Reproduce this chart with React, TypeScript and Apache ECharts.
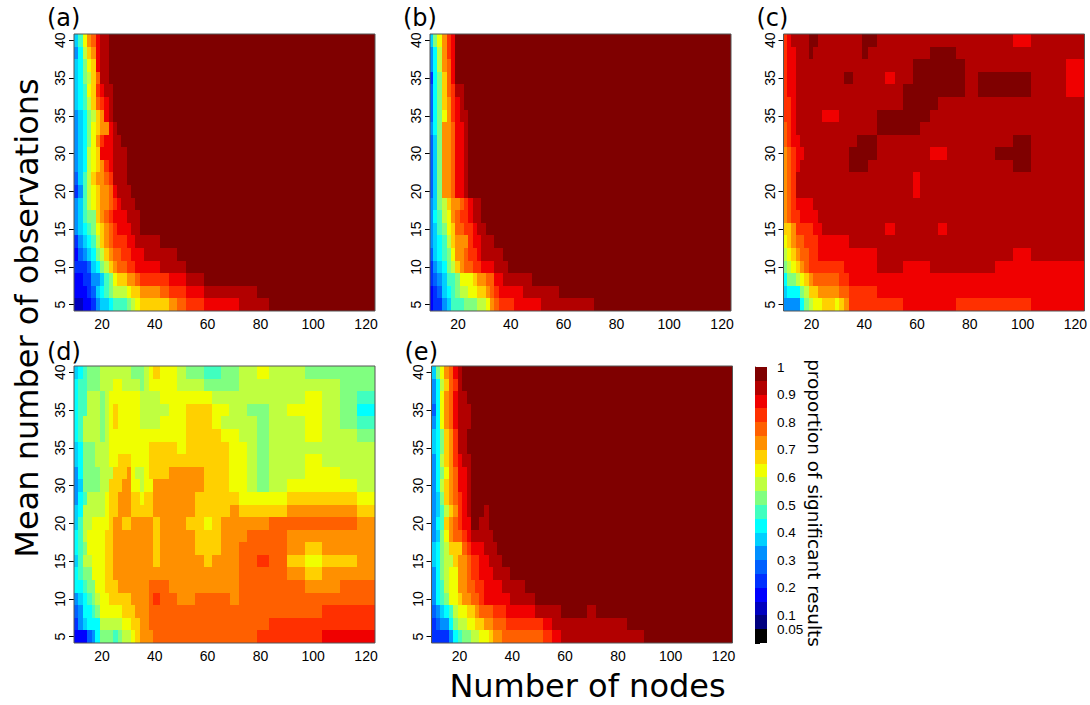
import React, { useEffect, useRef } from "react";
import * as echarts from "echarts";

// Colour bands of the scale, lowest to highest, each 0.05 wide.
const bandColors = ["#000000","#00007F","#0000BF","#0000FF","#0030FF","#0060FF","#0090FF","#00D0FF","#00FFFF","#40FFBF","#80FF80","#BFFF40","#F0FF00","#FFD000","#FF9000","#FF6000","#FF3000","#F00000","#B20000","#7F0000"];
const colorbarTicks = [0,0.05,0.1,0.15,0.2,0.25,0.3,0.35,0.4,0.45,0.5,0.55,0.6,0.65,0.7,0.75,0.8,0.85,0.9,0.95,1];
const colorbarLabels = [0.05,0.1,0.2,0.3,0.4,0.5,0.6,0.7,0.8,0.9,1];
const xTicks = [20,40,60,80,100,120];
const yTickRows = [0,3,6,9,12,15,18,21];
const yTickLabels = ["5","10","15","20","30","35","35","40"];
const panelLetters = ["(a)","(b)","(c)","(d)","(e)"];

// Each row (bottom to top): band, end of its run on the x axis, band, end, ..., last band (runs to the right edge).
const panelA = [
[2,12.7,3,16,4,17.6,6,19.1,7,22.5,8,24.2,9,29.4,10,30.9,11,32.4,12,34.3,13,45.3,14,48.3,15,51.7,16,58.6,17,71.8,18,83.2,19],
[3,14.2,4,16,5,17.6,7,19.1,8,20.8,9,22.5,10,24.2,11,29.4,12,30.9,13,34.3,14,41.9,15,45.3,16,51.7,17,58.6,18,78.7,19],
[3,12.7,4,16,6,19.1,7,20.8,9,22.5,10,24.2,12,25.8,13,29.4,14,32.4,15,34.3,16,45.3,17,51.7,18,58.6,19],
[4,14.2,5,16,7,17.6,8,19.1,10,20.8,11,22.5,13,24.2,14,25.8,15,29.4,16,32.4,17,41.9,18,51.7,19],
[3,10.9,5,12.7,6,14.2,7,16,8,17.6,10,19.1,11,20.8,13,22.5,14,24.2,15,27.3,16,30.9,17,35.8,18,48.3,19],
[4,10.9,6,12.7,7,14.2,8,16,9,17.6,11,19.1,13,20.8,14,22.5,15,24.2,16,29.4,17,32.4,18,41.9,19],
[6,10.9,7,12.7,8,14.2,9,16,10,17.6,12,19.1,13,20.8,14,22.5,15,24.2,16,25.8,17,30.9,18,34.3,19],
[6,10.9,7,12.7,9,14.2,10,17.6,13,19.1,14,20.8,15,22.5,16,24.2,17,29.4,18,34.3,19],
[6,10.9,7,12.7,9,14.2,11,16,12,17.6,13,19.1,14,22.5,15,24.2,16,25.8,17,27.3,18,32.4,19],
[4,10.9,6,12.7,9,14.2,11,16,12,17.6,13,19.1,14,22.5,15,24.2,17,25.8,18,30.9,19],
[5,10.9,7,12.7,9,14.2,11,16,13,17.6,14,20.8,15,22.5,16,24.2,18,29.4,19],
[6,10.9,7,12.7,8,14.2,11,16,12,17.6,13,19.1,14,20.8,16,22.5,17,24.2,18,29.4,19],
[6,10.9,7,12.7,8,14.2,11,16,12,17.6,13,19.1,17,24.2,18,29.4,19],
[6,10.9,7,12.7,8,14.2,10,16,12,17.6,14,19.1,16,20.8,17,24.2,18,27.3,19],
[6,10.9,7,12.7,8,14.2,10,16,12,17.6,13,19.1,14,22.5,17,24.2,18,25.8,19],
[6,10.9,7,12.7,8,14.2,10,16,11,17.6,13,19.1,14,20.8,17,22.5,18,24.2,19],
[7,10.9,8,12.7,9,14.2,11,16,13,17.6,15,19.1,16,20.8,17,22.5,18,24.2,19],
[7,10.9,8,12.7,9,14.2,12,16,13,17.6,16,19.1,17,20.8,18,24.2,19],
[7,10.9,8,12.7,10,14.2,11,16,13,17.6,15,19.1,18,22.5,19],
[7,10.9,8,12.7,10,14.2,12,16,13,17.6,17,19.1,18,22.5,19],
[6,10.9,8,12.7,11,14.2,13,16,14,17.6,17,19.1,18,22.5,19],
[7,10.9,9,12.7,12,14.2,14,16,15,17.6,17,19.1,18,22.5,19],
];

const panelB = [
[3,10.6,4,14,6,15.7,7,17.3,9,22.4,10,27.2,11,30.7,12,32.3,14,33.8,15,35.7,16,41.4,17,51.3,18,71.4,19],
[3,10.6,4,12.2,5,14,7,15.7,8,17.3,9,19,10,20.6,11,23.9,12,27.2,13,30.7,14,32.3,15,33.8,16,35.7,17,44.8,18,58.1,19],
[4,10.6,5,12.2,6,14,7,15.7,9,19,10,20.6,12,25.6,13,27.2,14,30.7,15,33.8,17,37.2,18,48.2,19],
[4,10.6,6,12.2,7,14,8,15.7,10,17.3,11,19,13,20.6,14,22.4,15,25.6,16,28.8,17,33.8,18,39.1,19],
[5,10.6,7,12.2,8,14,9,15.7,10,17.3,12,19,14,22.4,15,23.9,16,27.2,17,28.8,18,37.2,19],
[6,10.6,7,12.2,8,14,9,15.7,11,17.3,13,19,14,23.9,16,25.6,17,28.8,18,33.8,19],
[6,10.6,7,12.2,9,14,10,15.7,12,17.3,13,19,15,22.4,16,25.6,17,27.2,18,30.7,19],
[6,10.6,8,12.2,9,14,11,15.7,12,17.3,14,19,15,20.6,16,23.9,17,25.6,18,28.8,19],
[6,10.6,7,12.2,10,14,11,15.7,13,17.3,14,20.6,15,22.4,16,23.9,17,25.6,18,28.8,19],
[5,10.6,7,12.2,10,14,14,17.3,15,19,17,22.4,18,23.9,19],
[5,10.6,7,12.2,10,14,14,17.3,15,19,17,22.4,18,23.9,19],
[5,10.6,7,12.2,10,14,14,17.3,15,19,17,22.4,18,23.9,19],
[5,10.6,7,12.2,10,14,14,17.3,15,19,17,22.4,18,23.9,19],
[5,10.6,7,12.2,10,14,14,17.3,15,19,17,22.4,18,23.9,19],
[6,10.6,8,12.2,10,14,14,17.3,15,19,17,22.4,18,23.9,19],
[5,10.6,8,12.2,10,14,12,15.7,14,17.3,16,19,17,20.6,18,23.9,19],
[5,10.6,8,12.2,10,14,13,15.7,14,17.3,16,19,17,20.6,18,22.4,19],
[5,10.6,8,12.2,10,14,13,15.7,15,17.3,16,19,18,22.4,19],
[4,10.6,8,12.2,10,14,13,15.7,15,17.3,17,19,19],
[6,10.6,8,12.2,11,14,14,15.7,15,17.3,17,19,19],
[6,10.6,8,12.2,11,14,14,15.7,16,17.3,17,19,19],
[7,10.6,10,12.2,12,14,14,15.7,16,17.3,17,19,19],
];

const panelC = [
[6,15.7,8,17.2,10,19.1,11,20.6,12,24,13,29,12,30.5,13,32.4,14,34.3,16,54.8,17,74.9,16,103.3,17],
[7,10.6,8,15.7,10,17.2,11,19.1,13,22.5,14,30.5,15,34.3,16,44.9,17],
[8,10.6,10,14.2,11,15.7,12,17.2,13,19.1,14,20.6,15,30.5,16,34.3,17],
[10,10.6,11,12.4,12,14.2,13,15.7,14,17.2,15,19.1,16,32.4,17,44.9,18,54.8,17,65,18,89.7,17],
[11,10.6,12,12.4,13,14.2,14,15.7,15,19.1,16,22.5,17,44.9,18,96.5,17,103.3,18],
[12,10.9,13,12.4,14,14.2,15,17.2,16,22.5,17,34.3,18],
[13,12.4,14,14.2,16,20.6,17,24,18,47.9,17,51.7,18,68,17,71.5,18],
[14,10.6,15,12.4,16,15.7,17,22.5,18],
[14,10.6,15,12.4,16,14.2,17,20.6,18],
[14,10.6,15,12.4,16,14.2,18,58.3,17,61.2,18],
[14,10.6,15,12.4,16,14.2,18,58.3,17,61.2,18],
[14,10.6,15,12.4,16,14.2,17,15.7,18,34.3,19,41.5,18,96.5,19,103.3,18],
[14,10.6,15,12.4,16,14.2,17,17.2,18,34.3,19,44.9,18,65,17,71.5,18,89.7,19,103.3,18],
[15,10.6,16,12.4,17,15.7,18,37.3,19,44.9,18,96.5,19,103.3,18],
[15,10.6,16,12.4,17,14.2,18,44.9,19,61.2,18],
[16,12.4,17,14.2,18,24,17,30.5,18,44.9,19,65,18],
[16,12.4,17,14.2,18,54.8,19,68,18],
[16,10.6,17,14.2,18,54.8,19,78.3,18,83.2,19,103.3,18,116.6,17],
[16,10.6,17,14.2,18,32.4,19,35.8,18,47.9,17,51.7,18,58.3,19,78.3,18,83.2,19,103.3,18,116.6,17],
[16,10.6,17,14.2,18,58.3,19,78.3,18,116.6,17],
[16,10.6,17,14.2,18,19.1,19,20.6,18,39.2,19,41.5,18,65,19,74.9,18],
[16,10.6,17,12.4,18,19.1,19,22.5,18,39.2,19,44.9,18,96.5,17,103.3,18],
];

const panelD = [
[3,14.2,5,16.1,6,17.5,8,19.1,10,24,9,25.9,10,27.5,11,30.9,12,32.4,13,34.3,14,39.2,15,78.7,16,103.3,17],
[4,10.9,6,12.7,7,14.2,8,19.1,11,27.5,12,30.9,13,34.3,14,37.7,15,83.2,16],
[5,10.9,6,12.7,8,16.1,9,17.5,10,19.1,12,27.5,13,32.4,14,37.7,15,103.3,16],
[6,10.9,7,12.7,8,14.2,9,16.1,10,17.5,11,19.1,12,22.5,13,30.9,14,37.7,15,39.2,16,41.9,15,48.3,14,55.1,15,68.4,14,71.8,15],
[8,12.7,9,14.2,10,17.5,12,21,13,25.9,14,37.7,15,45.3,14,71.8,15,96.9,14,110.1,15],
[8,10.9,9,12.7,10,16.1,12,21,13,24,14,71.8,15,90,14,96.9,13,103.3,14],
[7,10.9,9,12.7,11,16.1,12,21,13,24,14,39.2,13,41.9,14,58.6,13,61.6,14,71.8,15,78.7,16,83.2,15,90,13,96.9,12,103.3,13,116.6,14],
[8,10.9,9,12.7,10,14.2,12,21,13,24,14,39.2,13,41.9,14,55.1,13,65,14,71.8,15,90,14,96.9,13,103.3,14],
[8,10.9,9,12.7,11,14.2,12,21,13,24,14,39.2,13,41.9,14,55.1,13,65,14,74.9,15,90,14],
[7,10.9,9,12.7,11,16.1,12,22.5,13,24,14,27.5,13,30.9,14,39.2,13,41.9,14,51.7,13,58.6,12,61.6,13,65,14,83.2,15,116.6,14],
[7,10.9,8,12.7,11,21,12,22.5,13,25.9,14,30.9,13,39.2,14,55.1,13,68.4,14,71.8,13,90,14,116.6,13],
[6,10.9,8,12.7,9,14.2,11,21,12,22.5,13,25.9,14,30.9,13,34.3,12,35.8,13,39.2,14,55.1,13,71.8,12,90,13,116.6,12],
[6,10.9,7,12.7,10,19.1,11,22.5,13,27.5,14,30.9,12,34.3,11,35.8,12,39.2,14,58.6,13,68,12,74.9,11,78.7,10,83.2,11,90,12,116.6,11],
[6,10.9,8,12.7,10,19.1,11,24,13,29.4,14,30.9,12,32.4,11,35.8,12,37.7,13,45.3,14,58.6,13,68,12,74.9,11,78.7,10,83.2,11,96.9,12,110.1,11],
[7,10.9,8,12.7,10,17.5,11,22.5,12,25.9,13,30.9,12,37.7,13,68,12,74.9,11,78.7,10,83.2,11,96.9,12,103.3,11],
[7,10.9,8,12.7,10,17.5,11,22.5,12,37.7,13,48.3,12,51.7,13,68,12,74.9,11,78.7,10,83.2,11],
[8,10.9,9,12.7,11,19.1,10,21,11,22.5,12,51.7,13,65,12,71.8,11,78.7,10,83.2,11,96.9,12,103.3,11,116.6,10],
[8,10.9,9,12.7,11,19.1,10,21,11,22.5,12,24,13,25.9,12,34.3,11,41.9,12,51.7,13,61.6,12,65,11,78.7,10,83.2,11,96.9,12,103.3,11,110.1,10,116.6,9],
[8,10.9,9,14.2,11,19.1,10,21,11,22.5,12,24,13,25.9,12,34.3,11,45.3,12,51.7,13,61.6,12,68,11,74.9,10,83.2,11,90,12,103.3,11,110.1,10,116.6,8],
[8,10.9,9,14.2,11,19.1,10,21,11,22.5,12,34.3,11,41.9,12,61.6,11,96.9,12,103.3,11,110.1,10,116.6,9],
[8,10.9,9,14.2,10,19.1,11,24,12,27.5,11,34.3,10,35.8,11,37.7,12,48.3,11,58.6,10,71.8,11,110.1,10],
[7,10.9,8,12.7,9,14.2,10,19.1,11,30.9,10,35.8,11,37.7,12,39.2,13,41.9,12,48.3,11,51.7,10,58.6,9,65,10,71.8,11,78.7,12,83.2,11,96.9,10],
];

const panelE = [
[4,16,6,17.6,8,19.4,9,20.9,10,24.3,11,27.5,12,31.2,13,32.7,14,36,15,51.6,16,55,17,58.5,18,90,19],
[4,11,5,12.6,6,16,8,17.6,10,19.4,11,22.7,12,26,13,29.2,14,32.7,15,37.6,16,51.6,17,55,18,83.5,19],
[5,11,6,12.6,7,14.2,8,16,9,17.6,11,19.4,12,22.7,13,26,14,27.5,15,32.7,16,37.6,17,48.6,18,58.5,19,68.3,18,71.7,19],
[6,11,8,12.6,9,14.2,10,16,12,19.4,13,20.9,14,24.3,15,27.5,16,29.2,17,39.1,18,48.6,19],
[6,11,8,12.6,9,14.2,11,16,12,19.4,14,22.7,15,26,16,29.2,17,36,18,44.8,19],
[6,11,8,12.6,10,14.2,11,16,12,19.4,14,22.7,15,24.3,16,27.5,17,32.7,18,39.1,19],
[7,11,8,12.6,10,14.2,11,17.6,13,19.4,14,22.7,15,24.3,16,27.5,17,31.2,18,36,19],
[7,11,8,12.6,10,14.2,11,16,13,20.9,15,22.7,16,24.3,17,29.2,18,34.3,19],
[6,11,7,12.6,10,14.2,12,16,14,17.6,15,20.9,16,22.7,17,24.3,18,32.7,19],
[6,11,8,12.6,9,14.2,13,16,14,17.6,15,19.4,16,20.9,17,24.3,19,27.5,18,31.2,19],
[6,11,7,12.6,9,14.2,11,16,13,17.6,14,19.4,16,20.9,17,22.7,18,24.3,19,29.2,18,31.2,19],
[6,11,7,12.6,10,14.2,13,16,14,17.6,15,19.4,16,20.9,17,22.7,18,24.3,19],
[6,11,8,12.6,11,14.2,13,16,14,17.6,15,19.4,17,22.7,18,24.3,19],
[6,11,8,12.6,10,14.2,12,16,14,17.6,15,19.4,17,22.7,18,24.3,19],
[6,11,8,12.6,11,14.2,13,16,14,17.6,16,19.4,17,20.9,18,24.3,19],
[7,11,8,12.6,10,14.2,13,16,14,17.6,16,19.4,18,22.7,19],
[7,11,8,12.6,10,14.2,13,16,14,17.6,16,19.4,18,22.7,19],
[6,11,8,12.6,12,14.2,14,16,15,17.6,17,19.4,18,24.3,19],
[5,11,8,12.6,12,14.2,14,16,15,17.6,17,19.4,18,24.3,19],
[6,11,8,12.6,12,14.2,14,16,15,17.6,17,19.4,18,22.7,19],
[6,11,8,12.6,11,14.2,13,16,15,17.6,16,19.4,18,20.9,19],
[7,11,10,12.6,12,14.2,14,16,15,17.6,17,19.4,18,20.9,19],
];

const panelRows = [panelA, panelB, panelC, panelD, panelE];

const X_MIN = 9.4;
const X_MAX = 123.4;
const PLOT_W = 301;
const PLOT_H = 277;
const plotLefts = [74, 430, 783.5, 74, 431.5];
const plotTops = [34, 34, 34, 366, 366];
const letterLifts = [28, 28, 28, 26, 26];

function cellsOf(rows: number[][]) {
  const cells: number[][] = [];
  rows.forEach((row, r) => {
    let start = X_MIN;
    for (let i = 0; i < row.length; i += 2) {
      const end = i + 1 < row.length ? row[i + 1] : X_MAX;
      cells.push([start, end, r, row[i]]);
      start = end;
    }
  });
  return cells;
}

function renderCell(_: any, api: any) {
  const a = api.coord([api.value(0), api.value(2) - 0.5]);
  const b = api.coord([api.value(1), api.value(2) + 0.5]);
  const x0 = Math.round(a[0]), x1 = Math.round(b[0]), y0 = Math.round(b[1]), y1 = Math.round(a[1]);
  return {
    type: "rect",
    shape: { x: x0, y: y0, width: x1 - x0, height: y1 - y0 },
    style: { fill: bandColors[api.value(3)] },
  };
}

function renderBand(_: any, api: any) {
  const a = api.coord([0, api.value(0)]);
  const b = api.coord([1, api.value(1)]);
  const y0 = Math.round(b[1]), y1 = Math.round(a[1]);
  return {
    type: "rect",
    shape: { x: a[0], y: y0, width: b[0] - a[0], height: y1 - y0 },
    style: { fill: bandColors[api.value(2)] },
  };
}

const tickFont = "'Liberation Sans', Arial, sans-serif";
const bigFont = "'DejaVu Sans', sans-serif";

export default function App() {
  const ref = useRef<HTMLDivElement>(null);
  useEffect(() => {
    document.body.style.margin = "0";
    const chart = echarts.init(ref.current!, undefined, { renderer: "svg" });
    const grids: any[] = [], xAxes: any[] = [], yAxes: any[] = [], series: any[] = [], graphics: any[] = [];
    panelRows.forEach((rows, i) => {
      grids.push({ left: plotLefts[i], top: plotTops[i], width: PLOT_W, height: PLOT_H });
      xAxes.push({
        type: "value", gridIndex: i, min: X_MIN, max: X_MAX, splitLine: { show: false },
        axisLine: { show: false }, axisTick: { show: false },
        axisLabel: { customValues: xTicks, color: "#000", fontSize: 14, fontFamily: tickFont, margin: 6 },
      });
      yAxes.push({
        type: "value", gridIndex: i, min: -0.5, max: 21.5, splitLine: { show: false },
        axisLine: { show: false },
        axisTick: { show: true, length: 5, customValues: yTickRows, lineStyle: { color: "#000", width: 1 } },
        axisLabel: {
          customValues: yTickRows, rotate: 90, color: "#000", fontSize: 14, fontFamily: tickFont, margin: 7,
          formatter: (v: number) => yTickLabels[yTickRows.indexOf(v)] ?? "",
        },
      });
      series.push({
        type: "custom", xAxisIndex: i, yAxisIndex: i, renderItem: renderCell, clip: true,
        encode: { x: [0, 1], y: 2 }, data: cellsOf(rows), silent: true,
      });
      graphics.push({
        type: "rect", z: 50, silent: true,
        shape: { x: plotLefts[i], y: plotTops[i], width: PLOT_W, height: PLOT_H },
        style: { fill: "none", stroke: "#555", lineWidth: 1 },
      });
      graphics.push({
        type: "text", z: 50, x: plotLefts[i] - 27, y: plotTops[i] - letterLifts[i],
        style: { text: panelLetters[i], fontFamily: bigFont, fontSize: 24, fill: "#000" },
      });
    });
    // Colour bar
    grids.push({ left: 755, top: 367, width: 12, height: 276 });
    xAxes.push({ type: "value", gridIndex: 5, min: 0, max: 1, show: false });
    yAxes.push({
      type: "value", gridIndex: 5, position: "right", min: 0, max: 1, splitLine: { show: false },
      axisLine: { show: true, lineStyle: { color: "#333", width: 1 } },
      axisTick: { show: true, length: 5, customValues: colorbarTicks, lineStyle: { color: "#000" } },
      axisLabel: {
        customValues: colorbarLabels, color: "#000", fontSize: 13.5, fontFamily: tickFont, margin: 10,
        formatter: (v: number) => String(v),
      },
    });
    series.push({
      type: "custom", xAxisIndex: 5, yAxisIndex: 5, renderItem: renderBand, silent: true,
      encode: { x: 0, y: [0, 1] },
      data: bandColors.map((_, i) => [colorbarTicks[i], colorbarTicks[i + 1], i]),
    });
    graphics.push(
      { type: "text", x: 27, y: 318, rotation: Math.PI / 2, silent: true,
        style: { text: "Mean number of observations", fontFamily: bigFont, fontSize: 32, fill: "#000", align: "center", verticalAlign: "middle" } },
      { type: "text", x: 587.5, y: 686, silent: true,
        style: { text: "Number of nodes", fontFamily: bigFont, fontSize: 32, fill: "#000", align: "center", verticalAlign: "middle" } },
      { type: "text", x: 814, y: 503, rotation: -Math.PI / 2, silent: true,
        style: { text: "proportion of significant results", fontFamily: bigFont, fontSize: 18.4, fill: "#000", align: "center", verticalAlign: "middle" } },
    );
    chart.setOption({ animation: false, backgroundColor: "#fff", grid: grids, xAxis: xAxes, yAxis: yAxes, series, graphic: graphics });
    return () => chart.dispose();
  }, []);
  return <div ref={ref} style={{ width: 1090, height: 705 }} />;
}
